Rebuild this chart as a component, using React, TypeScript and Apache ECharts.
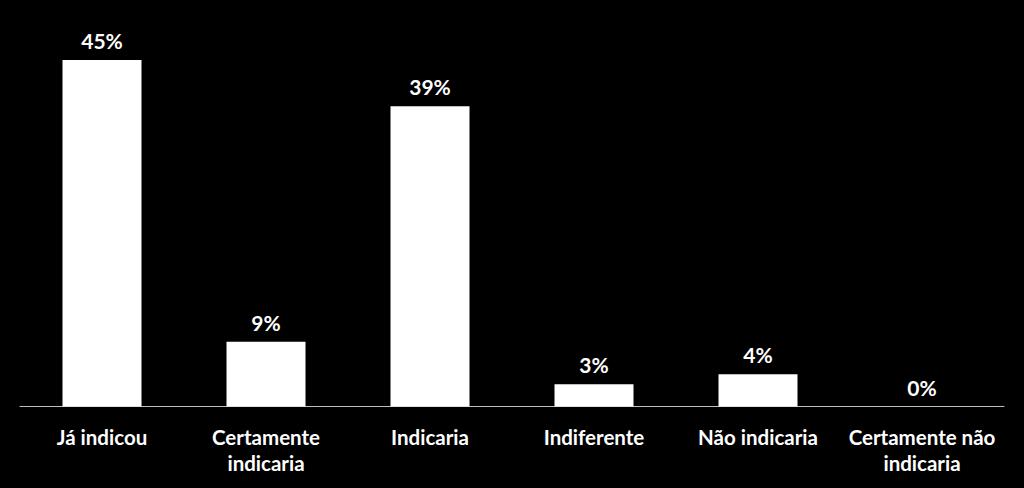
import React, { useEffect, useRef } from "react";
import * as echarts from "echarts";

const categories = [
  "Já indicou",
  "Certamente\nindicaria",
  "Indicaria",
  "Indiferente",
  "Não indicaria",
  "Certamente não\nindicaria",
];
const values = [45, 8.4, 39, 2.9, 4.2, 0];
const labels = ["45%", "9%", "39%", "3%", "4%", "0%"];

const FONT = "Lato, 'Open Sans', sans-serif";

export default function App() {
  const ref = useRef<HTMLDivElement>(null);
  useEffect(() => {
    if (!ref.current) return;
    const chart = echarts.init(ref.current, null, { renderer: "svg" });
    chart.setOption({
      animation: false,
      backgroundColor: "#000000",
      grid: { left: 20, right: 20, top: 60, bottom: 81.5, containLabel: false },
      xAxis: {
        type: "category",
        data: categories,
        axisLine: { show: true, lineStyle: { color: "#bfbfbf", width: 1 } },
        axisTick: { show: false },
        axisLabel: {
          color: "#ffffff",
          fontFamily: FONT,
          fontWeight: "bold",
          fontSize: 20.5,
          lineHeight: 26,
          margin: 17,
          interval: 0,
        },
      },
      yAxis: {
        type: "value",
        min: 0,
        max: 45,
        show: false,
        splitLine: { show: false },
      },
      series: [
        {
          type: "bar",
          data: values,
          barWidth: 79,
          itemStyle: { color: "#ffffff" },
          label: {
            show: true,
            position: "top",
            distance: 9,
            color: "#ffffff",
            fontFamily: FONT,
            fontWeight: "bold",
            fontSize: 21,
            formatter: (p: any) => labels[p.dataIndex],
          },
        },
      ],
    });
    return () => chart.dispose();
  }, []);
  return (
    <div
      ref={ref}
      style={{ position: "fixed", left: 0, top: 0, width: 1024, height: 488, background: "#000" }}
    />
  );
}
